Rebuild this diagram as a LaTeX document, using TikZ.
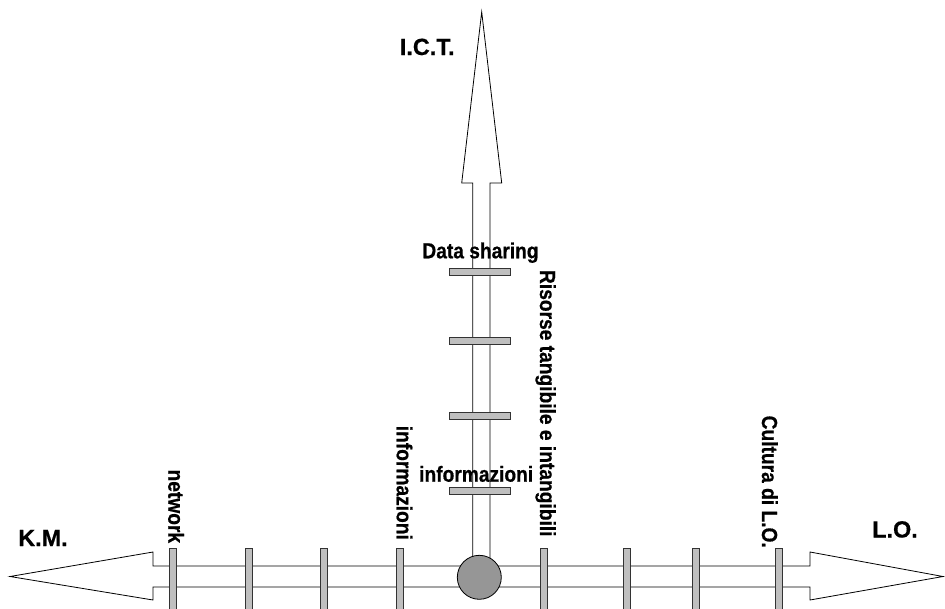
\documentclass[tikz,border=0pt]{standalone}
\usepackage{fontspec}
\newfontfamily\axisfont{Liberation Sans Bold}[FakeBold=0.6]
\newfontfamily\narrowlab{Liberation Sans Bold}[FakeStretch=0.88,FakeBold=0.6]
\begin{document}
\begin{tikzpicture}[x=1pt,y=-1pt,
  outline/.style={draw=black,line width=0.8pt,fill=white,line join=miter},
  vtick/.style={draw=black!80,line width=0.7pt,fill=black!25},
  hub/.style={draw=black,line width=0.8pt,fill=black!41},
  axislab/.style={inner sep=0pt,font=\axisfont\fontsize{23.4}{27}\selectfont},
  itemlab/.style={inner sep=0pt,font=\narrowlab\fontsize{21.8}{26}\selectfont},
  vlab/.style={itemlab,rotate=-90,anchor=base east}]
\useasboundingbox (0,0) rectangle (945,608);
\clip (0,0) rectangle (945,608);

% horizontal double arrow (K.M. <-> L.O.)
\draw[outline] (10,576.5) -- (153,552) -- (153,566) -- (810,566)
  -- (810,552) -- (943,576.5) -- (810,600) -- (810,587)
  -- (153,587) -- (153,600) -- cycle;

% vertical arrow (I.C.T. axis), its shaft running down into the hub
\draw[outline] (472.7,576) -- (472.7,183) -- (461.7,183) -- (481.7,12)
  -- (501.7,183) -- (490,183) -- (490,576);

% labels along the vertical axis
\node[itemlab,anchor=base] (ds) at (480.5,258.3) {Data sharing};
\node[itemlab,anchor=base] (infv) at (476.2,481.7) {informazioni};

% rungs on the vertical axis
\foreach \y/\n in {271.5/r1,340.5/r2,415.5/r3,490.5/r4}
  \draw[vtick] (449,\y-3.5) rectangle (510,\y+3.5) coordinate (\n);

% rungs on the horizontal axis
\foreach \x/\n in {172.5/t1,248.5/t2,324/t3,400/t4,544/t5,627/t6,696/t7,779/t8}
  \draw[vtick] (\x-3.6,548) rectangle (\x+3.6,620) coordinate (\n);

% central hub
\node[hub,circle,minimum size=44pt,inner sep=0pt] (hub) at (479.3,577.3) {};

% axis names
\node[axislab,anchor=base] (ict) at (427.2,55) {I.C.T.};
\node[axislab,anchor=base] (km) at (43,546) {K.M.};
\node[axislab,anchor=base] (lo) at (895,537.5) {L.O.};

% rotated labels above the horizontal rungs
\node[vlab] (net) at (168.3,543.3) {network};
\node[vlab] (infh) at (396.7,540) {informazioni};
\node[vlab] (ris) at (540,536.7) {Risorse tangibile e intangibili};
\node[vlab] (cul) at (762,548) {Cultura di L.O.};
\end{tikzpicture}
\end{document}
